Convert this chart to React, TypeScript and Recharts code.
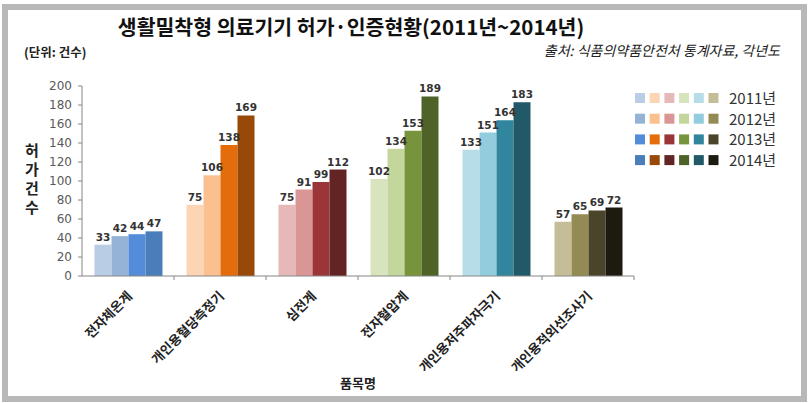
import React from 'react';
import { BarChart, Bar, XAxis, YAxis, Cell, LabelList } from 'recharts';

const categories = ['전자체온계', '개인용혈당측정기', '심전계', '전자혈압계', '개인용저주파자극기', '개인용적외선조사기'];
const years = ['2011년', '2012년', '2013년', '2014년'];
const v2011 = [33, 75, 75, 102, 133, 57];
const v2012 = [42, 106, 91, 134, 151, 65];
const v2013 = [44, 138, 99, 153, 164, 69];
const v2014 = [47, 169, 112, 189, 183, 72];
const yTicks = [0, 20, 40, 60, 80, 100, 120, 140, 160, 180, 200];

const c2011 = ['#B9CDE5', '#FCD5B5', '#E6B9B8', '#D7E4BD', '#B7DEE8', '#C4BD97'];
const c2012 = ['#95B3D7', '#FAC090', '#D99694', '#C3D69B', '#93CDDD', '#948A54'];
const c2013 = ['#538DD9', '#E46C0A', '#9B3538', '#77933C', '#31859C', '#4A452A'];
const c2014 = ['#4A7EBB', '#984807', '#632523', '#4F6228', '#215968', '#1D1B10'];

const yearKeys = ['y2011', 'y2012', 'y2013', 'y2014'];
const yearColors = [c2011, c2012, c2013, c2014];

const data = categories.map((name, i) => ({
  name,
  y2011: v2011[i],
  y2012: v2012[i],
  y2013: v2013[i],
  y2014: v2014[i],
}));

const W = 808;
const H = 403;
const M = { top: 86, right: 174, bottom: 67, left: 42 };
const Y_W = 40;
const X_H = 60;
const CAT_W = (W - M.left - M.right - Y_W) / categories.length;

const KR = '"Noto Sans CJK KR", "Noto Sans", sans-serif';

const XTick = (props: any) => {
  const { x, y, payload } = props;
  const bx = x + CAT_W / 2;
  return (
    <g>
      <line x1={bx} x2={bx} y1={y - 4} y2={y} stroke="#868686" strokeWidth={1} />
      <text
        x={x + 5}
        y={y + 17}
        textAnchor="end"
        transform={`rotate(-45, ${x + 5}, ${y + 17})`}
        fontSize={13}
        fontWeight="bold"
        fill="#222"
        fontFamily={KR}
      >
        {payload.value}
      </text>
    </g>
  );
};

const LegendBox = () => (
  <svg width={170} height={84} style={{ position: 'absolute', left: 635, top: 93, overflow: 'visible' }}>
    {years.map((yr, i) => {
      const ry = i * 20.7;
      return (
        <g key={yr}>
          {yearColors[i].map((c, j) => (
            <rect key={j} x={j * 14.7} y={ry} width={10} height={10} fill={c} />
          ))}
          <text x={94} y={ry + 11} fontSize={15} fill="#333" fontFamily={KR}>
            {yr}
          </text>
        </g>
      );
    })}
  </svg>
);

export default function App() {
  return (
    <div style={{ position: 'absolute', left: 0, top: 0, width: W, height: H, background: '#fff', overflow: 'hidden' }}>
      <div
        style={{
          position: 'absolute',
          left: 2,
          top: 4,
          width: 805,
          height: 398,
          boxSizing: 'border-box',
          border: '6px solid #b8b8b8',
        }}
      />
      <div
        style={{
          position: 'absolute',
          left: 0,
          width: 702,
          top: 12,
          textAlign: 'center',
          fontFamily: KR,
          fontWeight: 'bold',
          fontSize: 20.5,
          lineHeight: '28px',
          color: '#111',
          whiteSpace: 'nowrap',
        }}
      >
        생활밀착형 의료기기 허가·인증현황(2011년~2014년)
      </div>
      <div
        style={{
          position: 'absolute',
          left: 24,
          top: 43,
          fontFamily: KR,
          fontWeight: 'bold',
          fontSize: 12.5,
          lineHeight: '18px',
          color: '#222',
          whiteSpace: 'nowrap',
        }}
      >
        (단위: 건수)
      </div>
      <div
        style={{
          position: 'absolute',
          right: 28,
          top: 41,
          fontFamily: KR,
          fontStyle: 'italic',
          fontSize: 14,
          lineHeight: '18px',
          color: '#222',
          whiteSpace: 'nowrap',
        }}
      >
        출처: 식품의약품안전처 통계자료, 각년도
      </div>
      <div
        style={{
          position: 'absolute',
          left: 23,
          top: 140,
          width: 18,
          fontFamily: KR,
          fontWeight: 'bold',
          fontSize: 15,
          lineHeight: '19px',
          color: '#222',
          textAlign: 'center',
        }}
      >
        {'허가건수'.split('').map((ch, i) => (
          <div key={i}>{ch}</div>
        ))}
      </div>
      <div
        style={{
          position: 'absolute',
          left: 308,
          width: 100,
          top: 373,
          textAlign: 'center',
          fontFamily: KR,
          fontWeight: 'bold',
          fontSize: 13,
          lineHeight: '20px',
          color: '#222',
        }}
      >
        품목명
      </div>
      <div style={{ position: 'absolute', left: 0, top: 0 }}>
        <BarChart width={W} height={H} data={data} margin={M} barCategoryGap={12.5} barGap={0}>
          <XAxis
            dataKey="name"
            height={X_H}
            interval={0}
            tick={<XTick />}
            tickLine={false}
            tickSize={4}
            tickMargin={0}
            axisLine={{ stroke: '#868686' }}
          />
          <YAxis
            width={Y_W}
            domain={[0, 200]}
            ticks={yTicks}
            interval={0}
            tickSize={4}
            tickMargin={6}
            tickLine={{ stroke: '#868686' }}
            axisLine={{ stroke: '#868686' }}
            tick={{ fontSize: 12, fill: '#595959', fontFamily: '"DejaVu Sans", sans-serif' }}
          />
          {yearKeys.map((k, i) => (
            <Bar key={k} dataKey={k} name={years[i]} isAnimationActive={false}>
              {categories.map((c, j) => (
                <Cell key={c} fill={yearColors[i][j]} />
              ))}
              <LabelList
                dataKey={k}
                position="top"
                offset={4}
                fontSize={10.5}
                fontWeight="bold"
                fill="#333"
                fontFamily='"DejaVu Sans", sans-serif'
              />
            </Bar>
          ))}
        </BarChart>
      </div>
      <LegendBox />
    </div>
  );
}
